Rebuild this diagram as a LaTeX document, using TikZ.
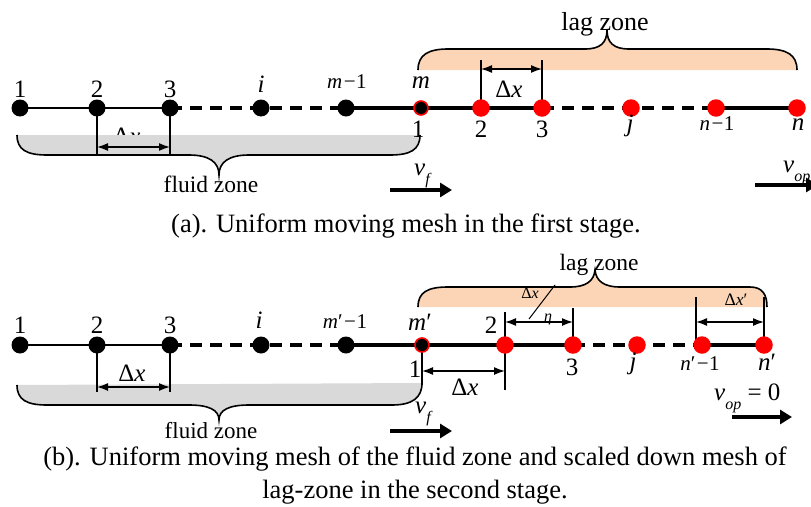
\documentclass[tikz,border=0pt]{standalone}
\usepackage{fontspec}
\setmainfont{Liberation Serif}
\usetikzlibrary{arrows.meta}
\definecolor{fluidgray}{HTML}{D9D9D9}
\definecolor{lagpeach}{HTML}{FBD5B5}
\definecolor{meshred}{HTML}{FF0000}
\newcommand{\sub}[1]{\raisebox{-0.38em}{\fontsize{16}{18}\selectfont\textit{#1}}}
\newcommand{\mminus}{\kern1.5pt−\kern0.5pt}

\begin{document}
\begin{tikzpicture}[x=1pt,y=-1pt,
  lbl/.style={anchor=base,inner sep=0pt,font=\fontsize{25}{30}\selectfont},
  lblsm/.style={anchor=base,inner sep=0pt,font=\fontsize{21}{25}\selectfont},
  lbltiny/.style={anchor=base,inner sep=0pt,font=\fontsize{16}{19}\selectfont},
  zonelbl/.style={anchor=base,inner sep=0pt,font=\fontsize{23.5}{28}\selectfont},
  captxt/.style={anchor=base,inner sep=0pt,font=\fontsize{26.5}{32}\selectfont},
  fdot/.style={circle,fill=black,minimum size=17pt,inner sep=0pt},
  ldot/.style={circle,fill=meshred,minimum size=17.5pt,inner sep=0pt},
  jdot/.style={circle,fill=black,draw=meshred,line width=1.6pt,minimum size=14pt,inner sep=0pt},
  thinmesh/.style={line width=2.2pt},
  thickmesh/.style={line width=4pt},
  dashmesh/.style={line width=4pt,dash pattern=on 12pt off 8pt},
  ext/.style={line width=1.5pt},
  dimarrow/.style={line width=1.5pt,{Latex[length=11pt,width=8pt]}-{Latex[length=11pt,width=8pt]}},
  velarrow/.style={line width=4pt,-{Triangle[length=12pt,width=14pt]}},
  bracepath/.style={line width=1.6pt},
]
\useasboundingbox (0,0) rectangle (811,506);

%% ---------------- (a) first stage ----------------
% mesh points
\coordinate (A1) at (20,108);
\coordinate (A2) at (97,108);
\coordinate (A3) at (170,108);
\coordinate (Ai) at (261,108);
\coordinate (Am1) at (346,108);
\coordinate (Am) at (421,108);
\coordinate (Al2) at (481,108);
\coordinate (Al3) at (542,108);
\coordinate (Aj) at (631,108);
\coordinate (An1) at (716,108);
\coordinate (An) at (797,108);

% spacing label of the fluid zone (partly covered by the zone band)
\node[lbl] (adxf) at (127,144) {Δ\textit{x}};

% fluid zone band and brace
\fill[fluidgray] (17,135) .. controls (17,150) and (27,155) .. (47,155) -- (189,155)
  .. controls (209,155) and (219,162) .. (219,175)
  .. controls (219,162) and (229,155) .. (249,155) -- (390,155)
  .. controls (410,155) and (420,150) .. (420,135) -- cycle;
\draw[bracepath] (17,135) .. controls (17,150) and (27,155) .. (47,155) -- (189,155)
  .. controls (209,155) and (219,162) .. (219,175)
  .. controls (219,162) and (229,155) .. (249,155) -- (390,155)
  .. controls (410,155) and (420,150) .. (420,135);
\node[zonelbl] (afz) at (211,192) {fluid zone};

% lag zone band and brace
\fill[lagpeach] (418,70) .. controls (418,55) and (428,49) .. (448,49) -- (585,49)
  .. controls (600,49) and (607,43) .. (607,30)
  .. controls (607,43) and (614,49) .. (629,49) -- (767,49)
  .. controls (787,49) and (797,55) .. (797,70) -- cycle;
\draw[bracepath] (418,70) .. controls (418,55) and (428,49) .. (448,49) -- (585,49)
  .. controls (600,49) and (607,43) .. (607,30)
  .. controls (607,43) and (614,49) .. (629,49) -- (767,49)
  .. controls (787,49) and (797,55) .. (797,70);
\node[zonelbl,font=\fontsize{26}{30}\selectfont] (alz) at (605,30) {lag zone};

% dimension of the fluid zone spacing
\coordinate (Ae2) at (97,155);
\coordinate (Ae3) at (170,155);
\coordinate (Ad2) at (97,147);
\coordinate (Ad3) at (170,147);
\draw[ext] (A2) -- (Ae2);
\draw[ext] (A3) -- (Ae3);
\draw[dimarrow] (Ad2) -- (Ad3);

% dimension of the lag zone spacing
\coordinate (Ae4) at (481,60);
\coordinate (Ae5) at (542,60);
\coordinate (Ad4) at (481,69);
\coordinate (Ad5) at (542,69);
\draw[ext] (Al2) -- (Ae4);
\draw[ext] (Al3) -- (Ae5);
\draw[dimarrow] (Ad4) -- (Ad5);
\node[lbl] (adxl) at (509,97) {Δ\textit{x}};

% mesh lines
\draw[thinmesh] (A1) -- (A3);
\draw[dashmesh] (A3) -- (Am1);
\draw[thickmesh] (Am1) -- (Al3);
\draw[dashmesh] (Al3) -- (An1);
\draw[thickmesh] (An1) -- (An);

% mesh nodes
\node[fdot] (a1) at (A1) {};
\node[fdot] (a2) at (A2) {};
\node[fdot] (a3) at (A3) {};
\node[fdot] (ai) at (Ai) {};
\node[fdot] (am1) at (Am1) {};
\node[jdot] (am) at (Am) {};
\node[ldot] (al2) at (Al2) {};
\node[ldot] (al3) at (Al3) {};
\node[ldot] (aj) at (Aj) {};
\node[ldot] (an1) at (An1) {};
\node[ldot] (an) at (An) {};

% node labels
\node[lbl] (ta1) at (20,97) {1};
\node[lbl] (ta2) at (97,97) {2};
\node[lbl] (ta3) at (170,97) {3};
\node[lbl] (tai) at (261,92) {\textit{i}};
\node[lblsm] (tam1) at (347,88) {\textit{m}\mminus 1};
\node[lbl] (tam) at (421,88) {\textit{m}};
\node[lbl] (tal1) at (418,137) {1};
\node[lbl] (tal2) at (481,137) {2};
\node[lbl] (tal3) at (542,137) {3};
\node[lbl] (taj) at (630,131) {\textit{j}};
\node[lblsm] (tan1) at (717,130) {\textit{n}\mminus 1};
\node[lbl] (tan) at (798,130) {\textit{n}};

% velocities
\node[lbl,anchor=base west] (avf) at (414,175) {\textit{v}\sub{f}};
\coordinate (Avf0) at (390,190);
\coordinate (Avf1) at (452,190);
\draw[velarrow] (Avf0) -- (Avf1);
\node[lbl,anchor=base west] (avop) at (783,172) {\textit{v}\sub{op}};
\coordinate (Avo0) at (755,185);
\coordinate (Avo1) at (818,185);
\draw[velarrow] (Avo0) -- (Avo1);

\node[captxt] (capa) at (406,232) {(a). Uniform moving mesh in the first stage.};

%% ---------------- (b) second stage ----------------
\coordinate (B1) at (20,345);
\coordinate (B2) at (97,345);
\coordinate (B3) at (170,345);
\coordinate (Bi) at (261,345);
\coordinate (Bm1) at (346,345);
\coordinate (Bm) at (422,345);
\coordinate (Bl2) at (505,345);
\coordinate (Bl3) at (573,345);
\coordinate (Bj) at (637,345);
\coordinate (Bn1) at (702,345);
\coordinate (Bn) at (764,345);

% fluid zone band and brace
\fill[fluidgray] (17,385) .. controls (17,400) and (27,405) .. (47,405) -- (189,405)
  .. controls (209,405) and (219,410) .. (219,420)
  .. controls (219,410) and (229,405) .. (249,405) -- (392,405)
  .. controls (412,405) and (422,398) .. (422,383) -- cycle;
\draw[bracepath] (17,385) .. controls (17,400) and (27,405) .. (47,405) -- (189,405)
  .. controls (209,405) and (219,410) .. (219,420)
  .. controls (219,410) and (229,405) .. (249,405) -- (392,405)
  .. controls (412,405) and (422,398) .. (422,383);
\node[zonelbl,font=\fontsize{23}{27}\selectfont] (bfz) at (211,438) {fluid zone};

% lag zone band and brace
\fill[lagpeach] (418,307) .. controls (418,292) and (428,287) .. (448,287) -- (570,287)
  .. controls (586,287) and (594,281) .. (595,270)
  .. controls (596,281) and (604,287) .. (620,287) -- (750,287)
  .. controls (762,287) and (767,294) .. (767,307) -- cycle;
\draw[bracepath] (418,307) .. controls (418,292) and (428,287) .. (448,287) -- (570,287)
  .. controls (586,287) and (594,281) .. (595,270)
  .. controls (596,281) and (604,287) .. (620,287) -- (750,287)
  .. controls (762,287) and (767,294) .. (767,307);
\node[zonelbl] (blz) at (599,270) {lag zone};

% fluid zone spacing
\coordinate (Be2) at (97,392);
\coordinate (Be3) at (170,392);
\coordinate (Bd2) at (97,387);
\coordinate (Bd3) at (170,387);
\draw[ext] (B2) -- (Be2);
\draw[ext] (B3) -- (Be3);
\draw[dimarrow] (Bd2) -- (Bd3);
\node[lbl] (bdxf) at (132,381) {Δ\textit{x}};

% spacing from m' to the first lag node
\coordinate (Bem) at (422,385);
\coordinate (Bel2) at (505,390);
\coordinate (Bdm) at (422,371);
\coordinate (Bdl2) at (505,371);
\draw[ext] (Bm) -- (Bem);
\draw[ext] (Bl2) -- (Bel2);
\draw[dimarrow] (Bdm) -- (Bdl2);
\node[lbl] (bdxm) at (465,395) {Δ\textit{x}};

% scaled spacing dx/eta
\coordinate (Bet2) at (505,312);
\coordinate (Bet3) at (573,308);
\coordinate (Bdt2) at (505,322);
\coordinate (Bdt3) at (573,322);
\draw[ext] (Bl2) -- (Bet2);
\draw[ext] (Bl3) -- (Bet3);
\draw[dimarrow] (Bdt2) -- (Bdt3);
\node[lbltiny] (bdxs) at (530,298) {Δ\textit{x}};
\node[lbltiny] (beta) at (548,321) {\textit{η}};
\coordinate (Bsl0) at (555,285);
\coordinate (Bsl1) at (529,319);
\draw[line width=1pt] (Bsl0) -- (Bsl1);

% last spacing dx'
\coordinate (Ben1) at (696,297);
\coordinate (Ben) at (764,297);
\coordinate (Bdn1) at (696,322);
\coordinate (Bdn) at (764,322);
\draw[ext] (Ben1) -- (Ben1 |- Bn1);
\draw[ext] (Bn) -- (Ben);
\draw[dimarrow] (Bdn1) -- (Bdn);
\node[lbltiny,font=\fontsize{17.5}{20}\selectfont] (bdxp) at (736,305) {Δ\textit{x}′};

% mesh lines
\draw[thinmesh] (B1) -- (B3);
\draw[dashmesh] (B3) -- (Bm1);
\draw[thickmesh] (Bm1) -- (Bl3);
\draw[dashmesh] (Bl3) -- (Bn1);
\draw[thickmesh] (Bn1) -- (Bn);

% mesh nodes
\node[fdot] (b1) at (B1) {};
\node[fdot] (b2) at (B2) {};
\node[fdot] (b3) at (B3) {};
\node[fdot] (bi) at (Bi) {};
\node[fdot] (bm1) at (Bm1) {};
\node[jdot] (bm) at (Bm) {};
\node[ldot] (bl2) at (Bl2) {};
\node[ldot] (bl3) at (Bl3) {};
\node[ldot] (bj) at (Bj) {};
\node[ldot] (bn1) at (Bn1) {};
\node[ldot] (bn) at (Bn) {};

% node labels
\node[lbl] (tb1) at (20,333) {1};
\node[lbl] (tb2) at (97,333) {2};
\node[lbl] (tb3) at (170,333) {3};
\node[lbl] (tbi) at (259,328) {\textit{i}};
\node[lblsm] (tbm1) at (345,328) {\textit{m}′\mminus 1};
\node[lbl] (tbm) at (420,330) {\textit{m}′};
\node[lbl] (tbl1) at (415,377) {1};
\node[lbl] (tbl2) at (491,333) {2};
\node[lbl] (tbl3) at (572,375) {3};
\node[lbl] (tbj) at (633,369) {\textit{j}};
\node[lblsm] (tbn1) at (700,370) {\textit{n}′\mminus 1};
\node[lbl] (tbn) at (767,370) {\textit{n}′};

% velocities
\node[lbl,anchor=base west] (bvf) at (415,413) {\textit{v}\sub{f}};
\coordinate (Bvf0) at (390,431);
\coordinate (Bvf1) at (452,431);
\draw[velarrow] (Bvf0) -- (Bvf1);
\node[lbl,anchor=base west] (bvop) at (714,400) {\textit{v}\sub{op} = 0};
\coordinate (Bvo0) at (732,417);
\coordinate (Bvo1) at (792,417);
\draw[velarrow] (Bvo0) -- (Bvo1);

\node[captxt] (capb1) at (415,465) {(b). Uniform moving mesh of the fluid zone and scaled down mesh of};
\node[captxt] (capb2) at (415,498) {lag-zone in the second stage.};
\end{tikzpicture}
\end{document}
